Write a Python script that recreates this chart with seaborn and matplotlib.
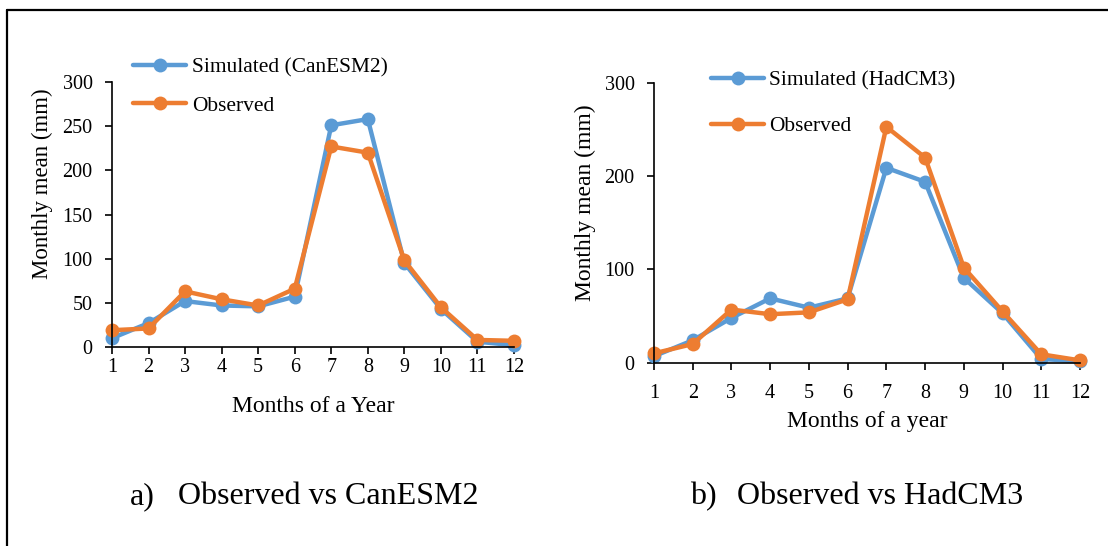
import matplotlib
matplotlib.use("Agg")
import matplotlib.pyplot as plt
import seaborn as sns
import pandas as pd
from matplotlib.lines import Line2D

months = list(range(1, 13))
sim_canesm2 = [10, 27, 52, 47, 46, 57, 251, 258, 95, 43, 6, 2]
obs_left = [19, 21, 63, 54, 47, 66, 227, 220, 98, 45, 8, 7]
sim_hadcm3 = [7, 24, 48, 69, 59, 69, 209, 194, 91, 53, 4, 1.5]
obs_right = [10, 20, 57, 52, 54, 68, 253, 220, 102, 55, 9, 2.5]

BLUE = "#5B9BD5"
ORANGE = "#ED7D31"

sns.set_theme(style="white")
plt.rcParams["font.family"] = ["Liberation Serif", "DejaVu Serif"]
plt.rcParams["text.color"] = "black"
plt.rcParams["axes.labelcolor"] = "black"
plt.rcParams["xtick.color"] = "black"
plt.rcParams["ytick.color"] = "black"

fig = plt.figure(figsize=(11.08, 5.46), dpi=100)
W, H = 1108, 546

def px_axes(x0, x1, y0, y1):
    return fig.add_axes([x0 / W, 1 - y1 / H, (x1 - x0) / W, (y1 - y0) / H])

axL = px_axes(112, 514, 82, 347)
axR = px_axes(654, 1080, 83, 362.7)

def draw(ax, sim, obs, sim_label, yticks):
    df = pd.DataFrame({"month": months, "sim": sim, "obs": obs})
    sns.lineplot(data=df, x="month", y="sim", ax=ax, color=BLUE, marker="o",
                 markersize=10, linewidth=3.2, markeredgewidth=0,
                 label=sim_label, legend=False)
    sns.lineplot(data=df, x="month", y="obs", ax=ax, color=ORANGE, marker="o",
                 markersize=10, linewidth=3.2, markeredgewidth=0,
                 label="Observed", legend=False)
    ax.set_xlim(1, 12)
    ax.set_ylim(0, 300)
    ax.set_xticks(months)
    ax.set_yticks(yticks)
    for s in ["top", "right"]:
        ax.spines[s].set_visible(False)
    for s in ["left", "bottom"]:
        ax.spines[s].set_color("black")
        ax.spines[s].set_linewidth(1.2)
    ax.tick_params(axis="both", which="major", direction="out", length=5,
                   width=1.2, color="black", labelsize=14.5, labelcolor="black",
                   bottom=True, left=True)
    for line in ax.lines:
        line.set_clip_on(False)

draw(axL, sim_canesm2, obs_left, "Simulated (CanESM2)", [0, 50, 100, 150, 200, 250, 300])
draw(axR, sim_hadcm3, obs_right, "Simulated (HadCM3)", [0, 100, 200, 300])

axL.tick_params(axis="x", pad=3)
axL.tick_params(axis="y", pad=9)
axR.tick_params(axis="x", pad=10)
axR.tick_params(axis="y", pad=9)

axL.set_xlabel("Months of a Year", fontsize=17, color="black")
axL.set_ylabel("Monthly mean (mm)", fontsize=16.5, color="black")
axR.set_xlabel("Months of a year", fontsize=17, color="black")
axR.set_ylabel("Monthly mean (mm)", fontsize=17, color="black")

def lab_coords(x_px, y_px, x0, x1, y0, y1):
    return ((x_px - x0) / (x1 - x0), (y1 - y_px) / (y1 - y0))

axL.xaxis.set_label_coords(*lab_coords(313, 406, 112, 514, 82, 347))
axL.yaxis.set_label_coords(*lab_coords(42, 184, 112, 514, 82, 347))
axR.xaxis.set_label_coords(*lab_coords(867, 422, 654, 1080, 83, 362.7))
axR.yaxis.set_label_coords(*lab_coords(585, 203, 654, 1080, 83, 362.7))
for ax in (axL, axR):
    ax.xaxis.label.set_verticalalignment("center")
    ax.yaxis.label.set_verticalalignment("center")

hL, lL = axL.get_legend_handles_labels()
fig.legend(hL, lL, loc="center left", bbox_to_anchor=(133 / W, 1 - 86.5 / H),
           frameon=False, fontsize=15.4, borderpad=0, borderaxespad=0,
           handlelength=2.5, handletextpad=0.25, labelspacing=0.85)
hR, lR = axR.get_legend_handles_labels()
fig.legend(hR, lR, loc="center left", bbox_to_anchor=(711 / W, 1 - 103.3 / H),
           frameon=False, fontsize=15.4, borderpad=0, borderaxespad=0,
           handlelength=2.5, handletextpad=0.2, labelspacing=1.2)

fig.text(130 / W, 1 - 497 / H, "a)", fontsize=23, va="center", ha="left")
fig.text(178 / W, 1 - 497 / H, "Observed vs CanESM2", fontsize=23, va="center", ha="left")
fig.text(690 / W, 1 - 497 / H, "b)", fontsize=23, va="center", ha="left")
fig.text(737 / W, 1 - 497 / H, "Observed vs HadCM3", fontsize=23, va="center", ha="left")

fig.add_artist(Line2D([7 / W, 7 / W], [0, 1 - 10 / H], transform=fig.transFigure,
                      color="black", linewidth=1.6))
fig.add_artist(Line2D([7 / W, 1], [1 - 10 / H, 1 - 10 / H], transform=fig.transFigure,
                      color="black", linewidth=1.6))

fig.savefig("out.png", dpi=100, facecolor="white")
